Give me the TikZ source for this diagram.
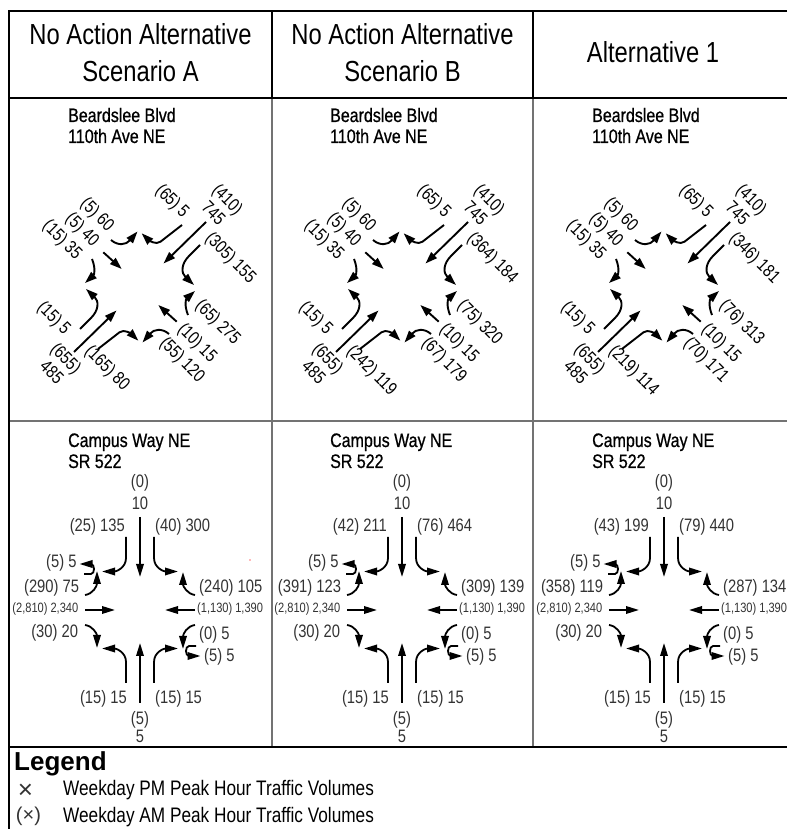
\documentclass[tikz,border=0pt]{standalone}
\usepackage{fontspec}
\setmainfont{Liberation Sans}
\newfontfamily\narrowfont{Liberation Sans}[FakeStretch=0.82]
\newfontfamily\narrowdark{Liberation Sans}[FakeStretch=0.82,FakeBold=0.7]
\usetikzlibrary{arrows.meta}
\definecolor{gridgray}{gray}{0.45}
\definecolor{numgray}{gray}{0.2}
\tikzset{
  mv/.style={line width=1.9pt, -{Triangle[length=12pt,width=8pt]}},
  cmv/.style={line width=1.8pt, -{Triangle[length=13pt,width=7.5pt]}},
  blab/.style={font=\narrowfont\fontsize{18}{21}\selectfont, rotate=-45, inner sep=0pt, anchor=west},
  blabtwo/.style={font=\narrowfont\fontsize{18}{20}\selectfont, rotate=-45, inner sep=0pt, align=center},
  clab/.style={font=\narrowfont\fontsize{18}{21}\selectfont, text=numgray, inner sep=0pt},
  csmall/.style={font=\narrowfont\fontsize{13.5}{16}\selectfont, text=numgray, inner sep=0pt},
  hdr/.style={font=\narrowfont\fontsize{29}{35}\selectfont, inner sep=0pt, anchor=base},
  ttl/.style={font=\narrowdark\fontsize{19.5}{22}\selectfont, inner sep=0pt, anchor=base west},
  legtxt/.style={font=\narrowfont\fontsize{21}{25}\selectfont, inner sep=0pt, anchor=base west},
  frameline/.style={line width=1.6pt, black},
  innerline/.style={line width=1.3pt, gridgray},
}
% Beardslee intersection: #1 x centre, #2 prefix, #3 NE-left, #4 SE-right, #5 SE-left, #6 SW-right
\newcommand\beardslee[6]{%
\begin{scope}[shift={(#1,542)}, name prefix=#2-]
  \foreach \r in {0,180}{
    \begin{scope}[rotate=\r]
      \draw[mv] (66,65) -- (23.5,23.5);
      \draw[mv] (42,62) -- (20.5,45.3) .. controls (16,41.5) and (8,47.5) .. (1.7,53.7);
      \draw[mv] (60,42) -- (49,31) .. controls (41,23) and (41,14) .. (54,2);
      \draw[mv] (48,-28) .. controls (44,-18) and (46,-12) .. (55,-4);
      \draw[mv] (36.7,-34.7) -- (18.3,-18);
      \draw[mv] (29,-47) .. controls (22,-41) and (14,-42) .. (2.5,-55.5);
    \end{scope}
  }
  \node[blab] (lnwl) at (-56.9,85.6) {(5) 60};
  \node[blab] (lnwt) at (-71.9,70.6) {(5) 40};
  \node[blab] (lnwr) at (-94.8,63.5) {(15) 35};
  \node[blab] (lner) at (18.1,98.9) {(65) 5};
  \node[blabtwo] (lnet) at (81,81) {(410)\\745};
  \node[blab] (lnel) at (67.7,51) {#3};
  \node[blab] (lser) at (57.9,-16.3) {#4};
  \node[blab] (lset) at (40.2,-39.8) {(10) 15};
  \node[blab] (lsel) at (22.3,-53.6) {#5};
  \node[blab] (lswr) at (-52.7,-61.9) {#6};
  \node[blabtwo] (lswt) at (-80.7,-78) {(655)\\485};
  \node[blab] (lswl) at (-100.3,-17.7) {(15) 5};
\end{scope}}
% Campus Way intersection: #1 x centre, #2 prefix, #3 SB right, #4 SB left, #5 EB left, #6 WB right
\newcommand\campus[6]{%
\begin{scope}[shift={(#1,219)}, name prefix=#2-]
  \foreach \r in {0,180}{
    \begin{scope}[rotate=\r]
      \draw[cmv] (0,93) -- (0,33);
      \draw[cmv] (-14,73) -- (-14,52) .. controls (-14,42) and (-24,38.5) .. (-38,38.5);
      \draw[cmv] (14,73) -- (14,52) .. controls (14,42) and (24,38.5) .. (38,38.5);
      \draw[cmv] (55,15) .. controls (47,16) and (43,24) .. (43,38);
      \draw[cmv] (55,0) -- (25,0);
      \draw[cmv] (55,-15) .. controls (47,-16) and (43,-24) .. (43,-39);
      \draw[cmv] (56,-36) -- (49,-36) .. controls (45,-36) and (45,-46) .. (49,-46) -- (60.5,-46);
    \end{scope}
  }
  \node[clab, anchor=base] (sbtp) at (0,122) {(0)};
  \node[clab, anchor=base] (sbt) at (0,100) {10};
  \node[clab, anchor=base east] (sbr) at (-15,78) {#3};
  \node[clab, anchor=base west] (sbl) at (15,78) {#4};
  \node[clab, anchor=base east] (ebu) at (-63.3,42) {(5) 5};
  \node[clab, anchor=base east] (ebl) at (-60.7,17) {#5};
  \node[clab, anchor=base west] (wbr) at (59,17) {#6};
  \node[csmall, anchor=base east] (ebt) at (-61.5,-3) {(2,810) 2,340};
  \node[csmall, anchor=base west] (wbt) at (57,-3) {(1,130) 1,390};
  \node[clab, anchor=base east] (ebr) at (-61.7,-28) {(30) 20};
  \node[clab, anchor=base west] (wbl) at (59,-30) {(0) 5};
  \node[clab, anchor=base west] (wbu) at (64,-52) {(5) 5};
  \node[clab, anchor=base east] (nbl) at (-13,-94) {(15) 15};
  \node[clab, anchor=base west] (nbr) at (15,-94) {(15) 15};
  \node[clab, anchor=base] (nbtp) at (0,-115) {(5)};
  \node[clab, anchor=base] (nbt) at (0,-133) {5};
\end{scope}}
\begin{document}
\begin{tikzpicture}[x=1pt,y=1pt]
\useasboundingbox (0,0) rectangle (787,829);
% table lines
\draw[innerline] (272,731) -- (272,82);
\draw[innerline] (533,731) -- (533,82);
\draw[innerline] (9,408) -- (787,408);
\draw[frameline, line width=1.3pt] (9,731) -- (787,731);
\draw[frameline, line width=1.3pt] (272,818) -- (272,731);
\draw[frameline, line width=1.3pt] (533,818) -- (533,731);
\draw[frameline] (787,818) -- (9,818) -- (9,0);
\draw[frameline] (9,82) -- (787,82);
% headers
\node[hdr] (hA1) at (140.5,784) {No Action Alternative};
\node[hdr] (hA2) at (140.5,747) {Scenario A};
\node[hdr] (hB1) at (402.5,784) {No Action Alternative};
\node[hdr] (hB2) at (402.5,747) {Scenario B};
\node[hdr] (hC) at (653,766) {Alternative 1};
% titles
\foreach \x/\n in {68/A,330/B,592/C}{
  \node[ttl] (bt1\n) at (\x,707) {Beardslee Blvd};
  \node[ttl] (bt2\n) at (\x,686) {110th Ave NE};
  \node[ttl] (ct1\n) at (\x,382) {Campus Way NE};
  \node[ttl] (ct2\n) at (\x,361) {SR 522};
}
% intersections
\beardslee{140}{bA}{(305) 155}{(65) 275}{(55) 120}{(165) 80}
\beardslee{402}{bB}{(364) 184}{(75) 320}{(67) 179}{(242) 119}
\beardslee{664}{bC}{(346) 181}{(76) 313}{(70) 171}{(219) 114}
\campus{140}{cA}{(25) 135}{(40) 300}{(290) 75}{(240) 105}
\campus{402}{cB}{(42) 211}{(76) 464}{(391) 123}{(309) 139}
\campus{664}{cC}{(43) 199}{(79) 440}{(358) 119}{(287) 134}
\fill[red!55] (250,269) circle (0.9pt);
% legend
\node[font=\bfseries\fontsize{26}{30}\selectfont, inner sep=0pt, anchor=base west] (leg) at (14,58) {Legend};
\node[font=\fontsize{26}{28}\selectfont, inner sep=0pt, anchor=base, text=numgray] (lx1) at (25.5,30) {×};
\node[font=\fontsize{20}{24}\selectfont, inner sep=0pt, anchor=base, text=numgray] (lx2) at (28.5,8) {(×)};
\node[legtxt] (lt1) at (63,33) {Weekday PM Peak Hour Traffic Volumes};
\node[legtxt] (lt2) at (63,6) {Weekday AM Peak Hour Traffic Volumes};
\end{tikzpicture}
\end{document}
